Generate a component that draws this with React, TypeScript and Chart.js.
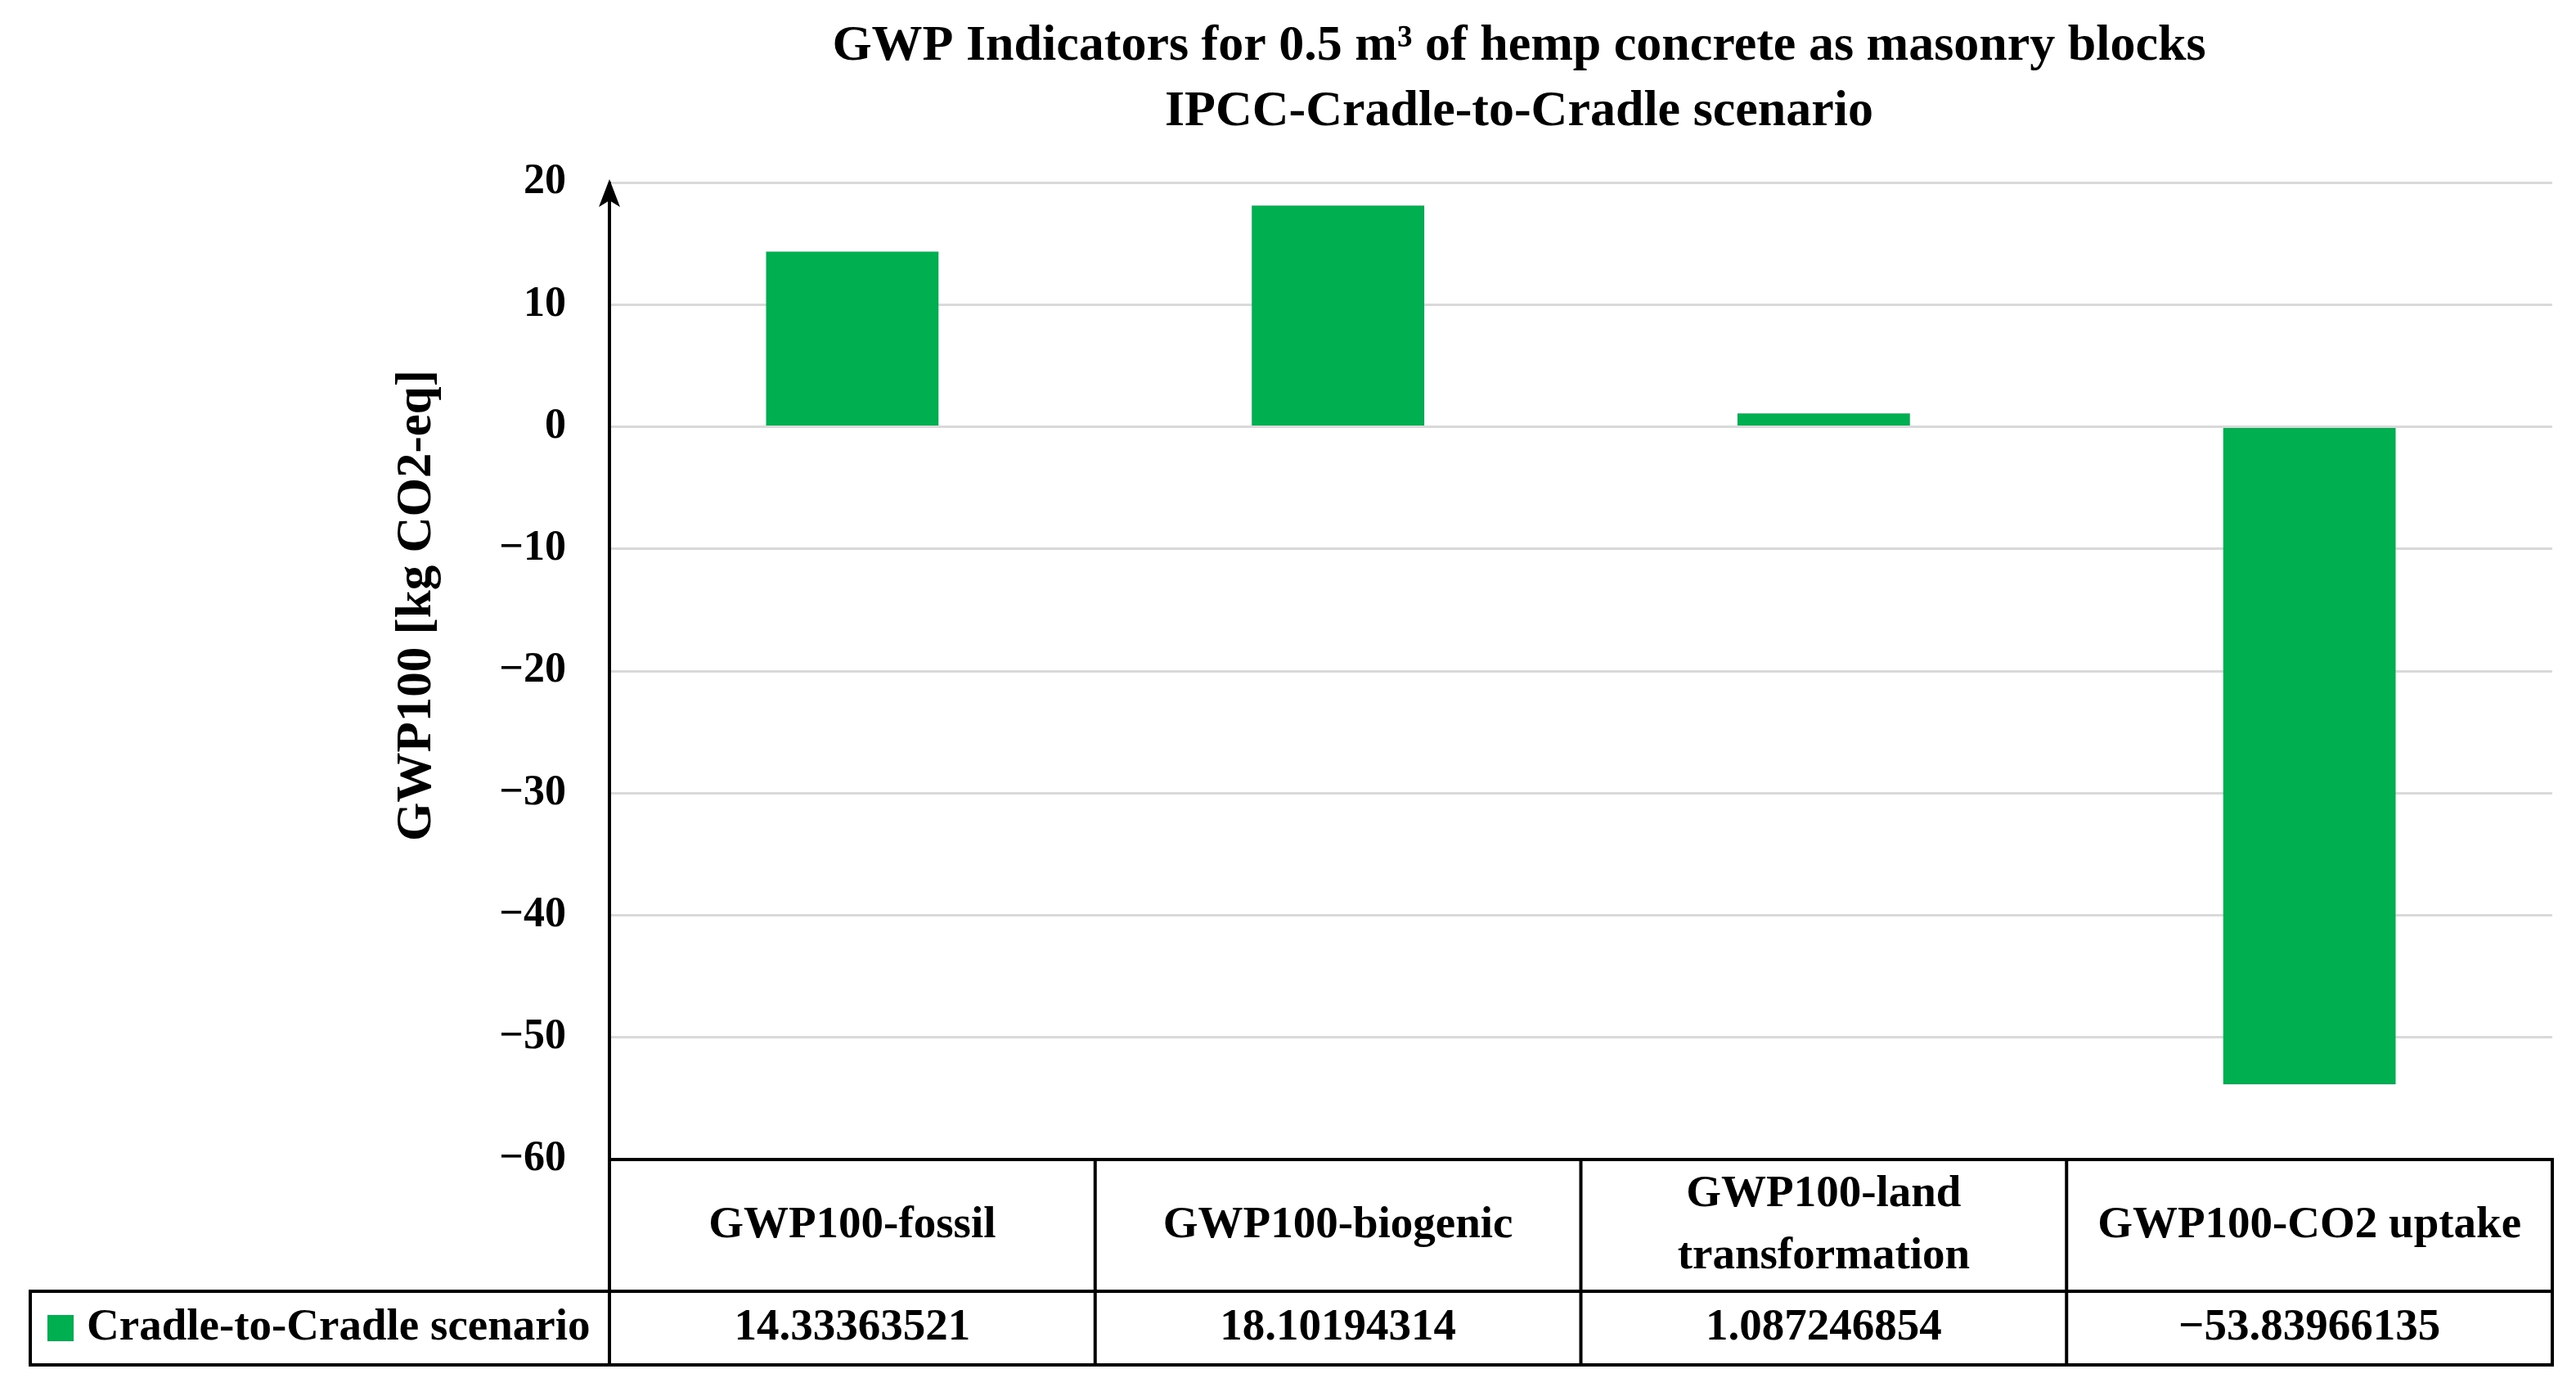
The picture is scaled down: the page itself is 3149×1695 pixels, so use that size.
import React, { useEffect, useRef } from 'react';
import { Chart, registerables } from 'chart.js';

Chart.register(...registerables);

const titleLines = [
  'GWP Indicators for 0.5 m\u00B3 of hemp concrete as masonry blocks',
  'IPCC-Cradle-to-Cradle scenario',
];
const yAxisTitle = 'GWP100 [kg CO2-eq]';
const categories = [
  ['GWP100-fossil'],
  ['GWP100-biogenic'],
  ['GWP100-land', 'transformation'],
  ['GWP100-CO2 uptake'],
];
const seriesName = 'Cradle-to-Cradle scenario';
const values = [14.33363521, 18.10194314, 1.087246854, -53.83966135];
const yMin = -60;
const yMax = 20;
const yStep = 10;

const BAR_COLOR = '#00B050';
const FONT = "'Liberation Serif', 'Times New Roman', serif";

const fmt = (v: number) => (v < 0 ? '\u2212' + String(Math.abs(v)) : String(v));

const decorPlugin = {
  id: 'decor',
  afterDraw(chart: any) {
    const { ctx, chartArea: ca, scales } = chart;
    const xs = scales.x;
    ctx.save();
    ctx.fillStyle = '#000';
    ctx.strokeStyle = '#000';

    // Title
    ctx.font = `bold 62px ${FONT}`;
    ctx.textAlign = 'center';
    ctx.textBaseline = 'middle';
    titleLines.forEach((t, i) => ctx.fillText(t, 1857, 57 + i * 80));

    // Y axis title
    ctx.save();
    ctx.translate(510, 740);
    ctx.rotate(-Math.PI / 2);
    ctx.font = `bold 61px ${FONT}`;
    ctx.fillText(yAxisTitle, 0, 0);
    ctx.restore();

    // Arrow at top of y axis
    const ax = ca.left;
    const ay = ca.top - 4;
    ctx.beginPath();
    ctx.moveTo(ax, ay);
    ctx.lineTo(ax - 13, ay + 34);
    ctx.lineTo(ax, ay + 26);
    ctx.lineTo(ax + 13, ay + 34);
    ctx.closePath();
    ctx.fill();

    // Data table
    const n = categories.length;
    const colW = (ca.right - ca.left) / n;
    const hdrTop = ca.bottom;
    const hdrBot = ca.bottom + 161;
    const rowBot = hdrBot + 90;
    const tableLeft = 37;
    ctx.lineWidth = 4;
    const line = (x1: number, y1: number, x2: number, y2: number) => {
      ctx.beginPath();
      ctx.moveTo(x1, y1);
      ctx.lineTo(x2, y2);
      ctx.stroke();
    };
    line(ca.left - 2, hdrTop, ca.right + 2, hdrTop);
    line(tableLeft - 2, hdrBot, ca.right + 2, hdrBot);
    line(tableLeft - 2, rowBot, ca.right + 2, rowBot);
    for (let i = 0; i <= n; i++) {
      const x = ca.left + i * colW;
      line(x, i === 0 ? ca.top + 20 : hdrTop, x, rowBot + 2);
    }
    line(tableLeft, hdrBot, tableLeft, rowBot + 2);

    ctx.font = `bold 55px ${FONT}`;
    ctx.textAlign = 'center';
    ctx.textBaseline = 'middle';
    const hdrMid = (hdrTop + hdrBot) / 2;
    const rowMid = (hdrBot + rowBot) / 2;
    categories.forEach((lines, i) => {
      const cx = xs.getPixelForValue(i);
      const lh = 76;
      lines.forEach((t, j) => {
        ctx.fillText(t, cx, hdrMid + (j - (lines.length - 1) / 2) * lh);
      });
      ctx.fillText(fmt(values[i]), cx, rowMid);
    });

    // Legend key cell
    ctx.fillStyle = BAR_COLOR;
    ctx.fillRect(58, rowMid - 16, 32, 32);
    ctx.fillStyle = '#000';
    ctx.textAlign = 'left';
    ctx.fillText(seriesName, 106, rowMid);

    ctx.restore();
  },
};

export default function App() {
  const canvasRef = useRef<HTMLCanvasElement | null>(null);

  useEffect(() => {
    if (!canvasRef.current) return;
    const chart = new Chart(canvasRef.current, {
      type: 'bar',
      data: {
        labels: categories.map((c) => c.join(' ')),
        datasets: [
          {
            label: seriesName,
            data: values,
            backgroundColor: BAR_COLOR,
            borderWidth: 0,
            barPercentage: 0.355,
            categoryPercentage: 1,
          },
        ],
      },
      options: {
        animation: false,
        responsive: true,
        maintainAspectRatio: false,
        layout: { padding: { top: 223, right: 29, bottom: 278, left: 0 } },
        plugins: {
          legend: { display: false },
          title: { display: false },
          tooltip: { enabled: false },
        },
        scales: {
          x: { display: false },
          y: {
            min: yMin,
            max: yMax,
            ticks: {
              stepSize: yStep,
              callback: (v: any) => fmt(Number(v)),
              color: '#000',
              font: { family: FONT, size: 52, weight: 'bold' },
              padding: 53,
            },
            grid: { color: '#d9d9d9', lineWidth: 3, drawTicks: false },
            border: { color: '#000', width: 3 },
            afterFit: (s: any) => {
              s.width = 745;
            },
          },
        },
      },
      plugins: [decorPlugin],
    } as any);
    return () => chart.destroy();
  }, []);

  return (
    <div style={{ position: 'fixed', left: 0, top: 0, width: '100vw', height: '100vh', background: '#fff' }}>
      <canvas ref={canvasRef} />
    </div>
  );
}
